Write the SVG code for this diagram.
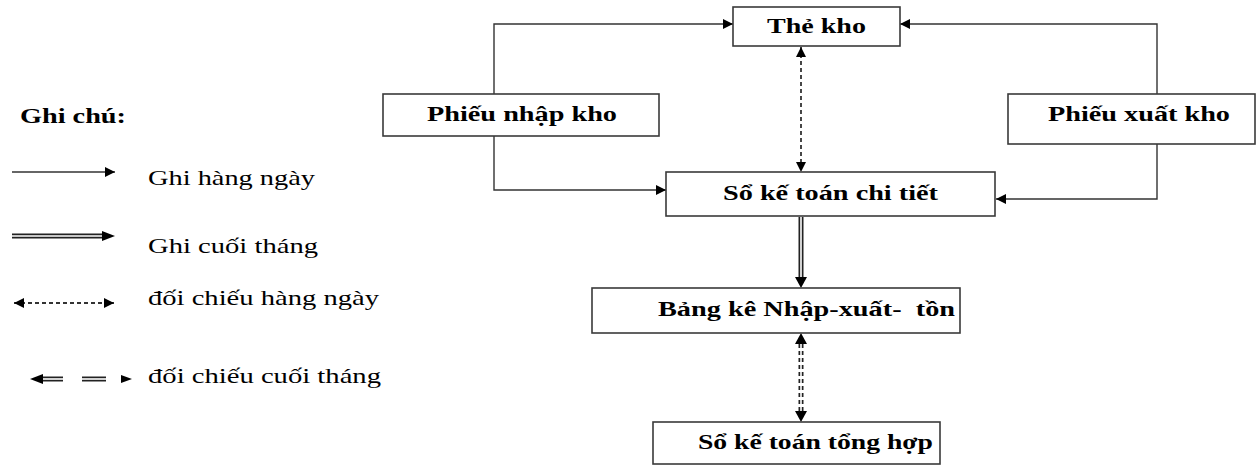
<svg xmlns="http://www.w3.org/2000/svg" width="1258" height="466" viewBox="0 0 1258 466">
<style>
.box{fill:#fff;stroke:#3a3a3a;stroke-width:1.6}
.nt{font-family:"Liberation Serif","Times New Roman",serif;font-weight:bold;font-size:22px;fill:#000;white-space:pre}
.lt{font-family:"Liberation Serif","Times New Roman",serif;font-size:22px;fill:#000}
.ln{fill:none;stroke:#333;stroke-width:1.4}
.dash{fill:none;stroke:#333;stroke-width:1.8;stroke-dasharray:4,3}
.dblo{fill:none;stroke:#222;stroke-width:5}
.dbli{fill:none;stroke:#fff;stroke-width:1.6}
</style>
<defs>
<marker id="ah" viewBox="0 0 10 10" refX="10" refY="5" markerWidth="13" markerHeight="10" markerUnits="userSpaceOnUse" orient="auto-start-reverse">
<path d="M0,0 L10,5 L0,10 Z" fill="#000"/>
</marker>
</defs>
<rect width="1258" height="466" fill="#fff"/>

<g id="legend">
<text class="nt" x="20" y="123" textLength="106" lengthAdjust="spacingAndGlyphs">Ghi chú:</text>
<line class="ln" x1="12" y1="172" x2="115" y2="172" marker-end="url(#ah)"/>
<text class="lt" x="148" y="185" textLength="167" lengthAdjust="spacingAndGlyphs">Ghi hàng ngày</text>
<line class="dblo" x1="12" y1="236" x2="104" y2="236"/>
<line class="dbli" x1="12" y1="236" x2="104" y2="236"/>
<path d="M102,231 L115,236 L102,241 Z" fill="#000"/>
<text class="lt" x="148" y="253" textLength="170" lengthAdjust="spacingAndGlyphs">Ghi cuối tháng</text>
<line class="dash" x1="14" y1="303" x2="114" y2="303" marker-start="url(#ah)" marker-end="url(#ah)"/>
<text class="lt" x="148" y="305" textLength="231" lengthAdjust="spacingAndGlyphs">đối chiếu hàng ngày</text>
<line class="dblo" x1="40" y1="379" x2="63" y2="379"/>
<line class="dbli" x1="40" y1="379" x2="63" y2="379"/>
<path d="M43,374 L30,379 L43,384 Z" fill="#000"/>
<line class="dblo" x1="82" y1="379" x2="106" y2="379"/>
<line class="dbli" x1="82" y1="379" x2="106" y2="379"/>
<path d="M121,375 L132,379 L121,383 Z" fill="#000"/>
<text class="lt" x="148" y="383" textLength="233" lengthAdjust="spacingAndGlyphs">đối chiếu cuối tháng</text>
</g>

<g id="connectors">
<path class="ln" d="M494,94 V24 H733" marker-end="url(#ah)"/>
<path class="ln" d="M494,136 V190 H666" marker-end="url(#ah)"/>
<path class="ln" d="M1157,94 V24 H900" marker-end="url(#ah)"/>
<path class="ln" d="M1157,144 V199 H996" marker-end="url(#ah)"/>
<line class="dash" x1="801" y1="47" x2="801" y2="172" marker-start="url(#ah)" marker-end="url(#ah)"/>
<line class="dblo" x1="801" y1="217" x2="801" y2="278"/>
<line class="dbli" x1="801" y1="217" x2="801" y2="278"/>
<path d="M795,277 L801,288 L807,277 Z" fill="#000"/>
<line class="dblo" x1="801" y1="344" x2="801" y2="411" stroke-dasharray="4,3"/>
<line class="dbli" x1="801" y1="344" x2="801" y2="411"/>
<path d="M795,344 L801,333 L807,344 Z" fill="#000"/>
<path d="M795,411 L801,422 L807,411 Z" fill="#000"/>
</g>

<g id="the-kho">
<rect class="box" x="733" y="7" width="167" height="39"/>
<text class="nt" x="767" y="33" textLength="99" lengthAdjust="spacingAndGlyphs">Thẻ kho</text>
</g>
<g id="phieu-nhap-kho">
<rect class="box" x="383" y="94" width="276" height="42"/>
<text class="nt" x="427" y="121" textLength="190" lengthAdjust="spacingAndGlyphs">Phiếu nhập kho</text>
</g>
<g id="phieu-xuat-kho">
<rect class="box" x="1008" y="94" width="247" height="50"/>
<text class="nt" x="1048" y="121" textLength="182" lengthAdjust="spacingAndGlyphs">Phiếu xuất kho</text>
</g>
<g id="so-ke-toan-chi-tiet">
<rect class="box" x="666" y="172" width="329" height="44"/>
<text class="nt" x="723" y="200" textLength="215" lengthAdjust="spacingAndGlyphs">Sổ kế toán chi tiết</text>
</g>
<g id="bang-ke">
<rect class="box" x="592" y="288" width="368" height="45"/>
<text class="nt" x="658" y="316" textLength="297" lengthAdjust="spacingAndGlyphs" xml:space="preserve">Bảng kê Nhập-xuất-  tồn</text>
</g>
<g id="so-ke-toan-tong-hop">
<rect class="box" x="653" y="422" width="287" height="42"/>
<text class="nt" x="698" y="449" textLength="235" lengthAdjust="spacingAndGlyphs">Sổ kế toán tổng hợp</text>
</g>
</svg>
